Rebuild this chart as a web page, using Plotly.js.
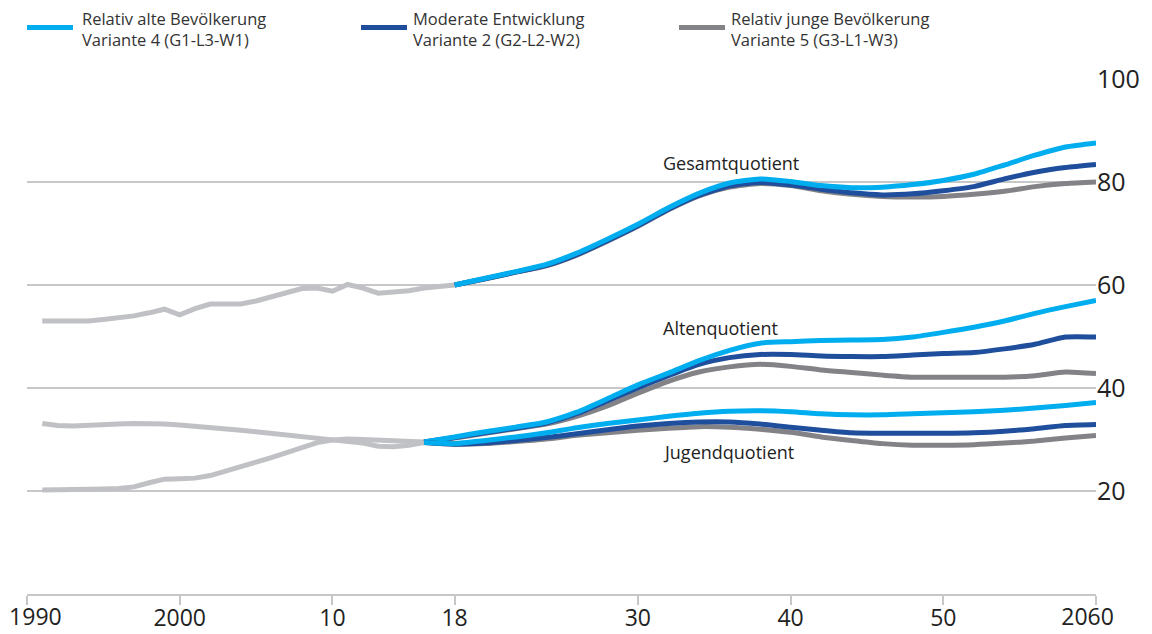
<!DOCTYPE html>
<html>
<head>
<meta charset="utf-8">
<script src="https://cdn.plot.ly/plotly-3.0.1.min.js"></script>
<style>html,body{margin:0;padding:0;background:#fff;}#chart{width:1152px;height:634px;}</style>
</head>
<body>
<div id="chart"></div>
<script>
// ---- Data ----
var histYears = [1991,1992,1993,1994,1995,1996,1997,1998,1999,2000,2001,2002,2003,2004,2005,2006,2007,2008,2009,2010,2011,2012,2013,2014,2015,2016,2017,2018];
var gesamtHist = [53.0,53.0,53.0,53.0,53.3,53.6,54.0,54.6,55.3,54.2,55.4,56.3,56.3,56.3,56.9,57.7,58.4,59.3,59.4,58.8,60.1,59.4,58.4,58.6,58.9,59.4,59.7,60.0];

var histYearsLower = [1991,1992,1993,1994,1995,1996,1997,1998,1999,2000,2001,2002,2003,2004,2005,2006,2007,2008,2009,2010,2011,2012,2013,2014,2015,2016];
var jugendHist = [33.1,32.7,32.6,32.8,32.9,33.0,33.1,33.1,33.0,32.8,32.6,32.4,32.1,31.8,31.5,31.2,30.9,30.6,30.3,30.0,29.8,29.3,28.7,28.6,28.9,29.4];
var altenHist = [20.2,20.2,20.2,20.3,20.4,20.5,20.8,21.6,22.3,22.4,22.5,23.0,23.8,24.7,25.6,26.5,27.5,28.5,29.4,29.9,30.1,30.0,29.9,29.8,29.7,29.5];

var projYears = [2018,2020,2022,2024,2026,2028,2030,2032,2034,2036,2038,2040,2042,2044,2046,2048,2050,2052,2054,2056,2058,2060];
var gesamtV4 = [60.0,61.3,62.6,64.0,66.2,68.9,71.8,75.0,77.8,79.8,80.6,80.1,79.3,78.9,79.0,79.5,80.3,81.5,83.3,85.2,86.8,87.6];
var gesamtV2 = [60.0,61.2,62.5,63.8,65.9,68.6,71.5,74.7,77.4,79.2,79.9,79.4,78.6,77.9,77.5,77.7,78.3,79.1,80.6,81.9,82.8,83.4];
var gesamtV5 = [60.0,61.2,62.5,63.7,65.8,68.5,71.4,74.6,77.3,79.0,79.7,79.3,78.3,77.6,77.2,77.1,77.2,77.6,78.2,79.1,79.7,80.0];

var projYearsLower = [2016,2018,2020,2022,2024,2026,2028,2030,2032,2034,2036,2038,2040,2042,2044,2046,2048,2050,2052,2054,2056,2058,2060];
var altenV4 = [29.5,30.5,31.5,32.4,33.4,35.3,37.9,40.6,42.9,45.3,47.3,48.7,49.0,49.2,49.3,49.4,49.9,50.8,51.8,53.0,54.5,55.8,57.0];
var altenV2 = [29.5,30.4,31.3,32.2,33.2,35.0,37.5,40.0,42.4,44.6,45.9,46.5,46.5,46.2,46.1,46.1,46.4,46.7,46.9,47.6,48.5,49.9,49.9];
var altenV5 = [29.5,30.3,31.2,32.1,33.0,34.5,36.5,39.0,41.3,43.1,44.1,44.6,44.2,43.5,43.0,42.5,42.1,42.1,42.1,42.1,42.4,43.1,42.8];
var jugendV4 = [29.4,29.2,29.8,30.5,31.3,32.3,33.1,33.8,34.5,35.1,35.5,35.6,35.4,35.0,34.8,34.8,35.0,35.2,35.4,35.7,36.1,36.6,37.2];
var jugendV2 = [29.4,29.1,29.3,29.8,30.4,31.1,31.9,32.6,33.1,33.4,33.4,33.0,32.4,31.8,31.3,31.2,31.2,31.2,31.3,31.6,32.1,32.7,32.9];
var jugendV5 = [29.4,29.1,29.2,29.6,30.1,30.8,31.3,31.8,32.2,32.5,32.4,32.0,31.4,30.5,29.8,29.2,28.9,28.9,29.0,29.3,29.7,30.3,30.8];

var tickYears = [1990,2000,2010,2018,2030,2040,2050,2060];
var tickLabels = ['1990','2000','10','18','30','40','50','2060'];
var yTicks = [20,40,60,80,100];

var seriesNames = ['Relativ alte Bevölkerung<br>Variante 4 (G1-L3-W1)','Moderate Entwicklung<br>Variante 2 (G2-L2-W2)','Relativ junge Bevölkerung<br>Variante 5 (G3-L1-W3)'];
var groupLabels = ['Gesamtquotient','Altenquotient','Jugendquotient'];

// ---- Styles ----
var cV4 = '#00aeef', cV2 = '#1f4e9c', cV5 = '#838387', cHist = '#c0c1c4', cGrid = '#c6c7c9';
var LW = 5;
var FONT = '"Open Sans", "DejaVu Sans", sans-serif';
var endLabelInset = 0.55; // years: end labels sit slightly inside the axis ends, as in the reference

var last = tickYears.length - 1;
var mainTickText = tickLabels.map(function (t, i) { return (i === 0 || i === last) ? '' : t; });
var endTickVals = [tickYears[0] + endLabelInset, tickYears[last] - endLabelInset];
var endTickText = [tickLabels[0], tickLabels[last]];

function histTrace(x, y) {
  return {x: x, y: y, type: 'scatter', mode: 'lines', line: {color: cHist, width: LW}, hoverinfo: 'skip', showlegend: false};
}
function projTrace(x, y, c) {
  return {x: x, y: y, type: 'scatter', mode: 'lines', line: {color: c, width: LW, shape: 'spline', smoothing: 0.6}, hoverinfo: 'skip', showlegend: false};
}

var traces = [
  histTrace(histYears, gesamtHist),
  histTrace(histYearsLower, jugendHist),
  histTrace(histYearsLower, altenHist),
  projTrace(projYears, gesamtV5, cV5),
  projTrace(projYears, gesamtV2, cV2),
  projTrace(projYears, gesamtV4, cV4),
  projTrace(projYearsLower, altenV5, cV5),
  projTrace(projYearsLower, altenV2, cV2),
  projTrace(projYearsLower, altenV4, cV4),
  projTrace(projYearsLower, jugendV5, cV5),
  projTrace(projYearsLower, jugendV2, cV2),
  projTrace(projYearsLower, jugendV4, cV4),
  // carrier for the secondary axis that holds the end labels
  {x: [], y: [], type: 'scatter', mode: 'lines', xaxis: 'x2', yaxis: 'y', hoverinfo: 'skip', showlegend: false}
];

// plot area geometry for legend placement (paper units)
var plotW = 1069, plotH = 515, mL = 27, mT = 79;
function px2paperX(px) { return (px - mL) / plotW; }
function px2paperY(py) { return (mT + plotH - py) / plotH; }

var legendColors = [cV4, cV2, cV5];
var legendLineX = [[27,73],[361,407],[679,725]];
var legendTextX = [80, 411, 729];
var shapes = [], annotations = [];
for (var i = 0; i < 3; i++) {
  shapes.push({type: 'line', xref: 'paper', yref: 'paper',
    x0: px2paperX(legendLineX[i][0]), x1: px2paperX(legendLineX[i][1]),
    y0: px2paperY(27.5), y1: px2paperY(27.5),
    line: {color: legendColors[i], width: 5}});
  annotations.push({xref: 'paper', yref: 'paper', x: px2paperX(legendTextX[i]), y: px2paperY(28.5),
    xanchor: 'left', yanchor: 'middle', align: 'left', showarrow: false,
    text: seriesNames[i], font: {family: FONT, size: 16.5, color: '#333333'}});
}
var groupLabelY = [83.7, 51.6, 27.6];
for (var j = 0; j < 3; j++) {
  annotations.push({xref: 'x', yref: 'y', x: 2031.5, y: groupLabelY[j], xanchor: 'left', yanchor: 'middle',
    showarrow: false, text: groupLabels[j], font: {family: FONT, size: 18, color: '#222222'}});
}

var tickFont = {family: FONT, size: 23, color: '#222222'};
var layout = {
  width: 1152, height: 634,
  margin: {l: mL, r: 1152 - mL - plotW, t: mT, b: 634 - mT - plotH, pad: 0},
  paper_bgcolor: '#ffffff', plot_bgcolor: '#ffffff',
  showlegend: false,
  font: {family: FONT, color: '#222222'},
  xaxis: {
    range: [1990, 2060], tickmode: 'array', tickvals: tickYears, ticktext: mainTickText,
    showgrid: false, zeroline: false, showline: true, linecolor: cGrid, linewidth: 2,
    ticks: 'outside', ticklen: 9, tickwidth: 2, tickcolor: cGrid, ticklabelstandoff: -7,
    tickfont: tickFont, fixedrange: true
  },
  xaxis2: {
    overlaying: 'x', anchor: 'y', side: 'bottom',
    range: [1990, 2060], tickmode: 'array', tickvals: endTickVals, ticktext: endTickText,
    showgrid: false, zeroline: false, showline: false,
    ticks: 'outside', ticklen: 9, tickwidth: 2, tickcolor: 'rgba(0,0,0,0)', ticklabelstandoff: -7,
    tickfont: tickFont, fixedrange: true
  },
  yaxis: {
    range: [0, 100], side: 'right', tickmode: 'array', tickvals: yTicks,
    showgrid: true, gridcolor: cGrid, gridwidth: 2, zeroline: false, showline: false,
    ticks: '', tickfont: {family: FONT, size: 25, color: '#222222'}, fixedrange: true
  },
  shapes: shapes,
  annotations: annotations
};

Plotly.newPlot('chart', traces, layout, {displayModeBar: false, staticPlot: true});
</script>
</body>
</html>
